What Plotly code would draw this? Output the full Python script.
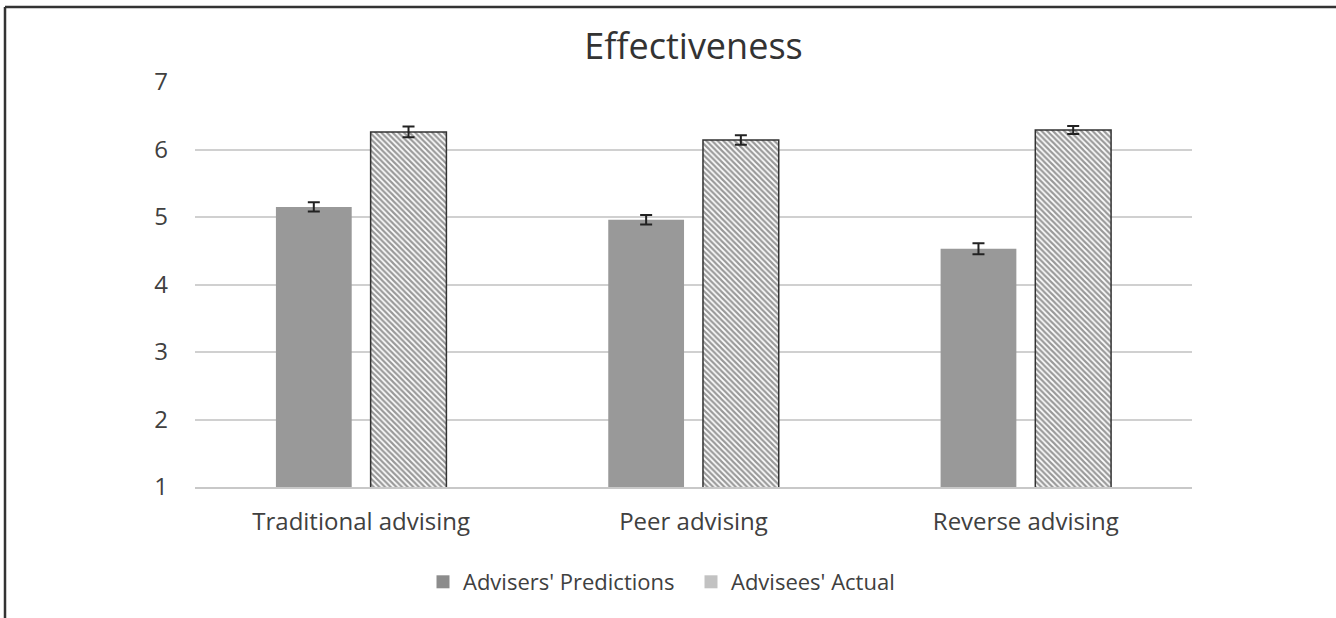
import plotly.graph_objects as go

categories = ["Traditional advising", "Peer advising", "Reverse advising"]
predictions = [5.15, 4.96, 4.53]
predictions_err = [0.07, 0.07, 0.08]
actual = [6.26, 6.14, 6.29]
actual_err = [0.08, 0.07, 0.06]
y_ticks = [1, 2, 3, 4, 5, 6, 7]
series_names = ["Advisers' Predictions", "Advisees' Actual"]

W, H = 1336, 618
L, R, T, B = 195, 1192, 82, 487

font = "Open Sans"
txt = "#404040"

fig = go.Figure()
fig.add_trace(go.Bar(
    x=categories, y=predictions, name=series_names[0],
    marker=dict(color="#999999", line=dict(width=0)),
    error_y=dict(type="data", array=predictions_err, color="#222222", thickness=2, width=6),
    showlegend=False,
))
fig.add_trace(go.Bar(
    x=categories, y=actual, name=series_names[1],
    marker=dict(color="white", line=dict(color="#333333", width=1.5),
                pattern=dict(shape="\\", fgcolor="#333333", bgcolor="white", size=4, solidity=0.55)),
    error_y=dict(type="data", array=actual_err, color="#222222", thickness=2, width=6),
    showlegend=False,
))
# legend entries (solid swatches as in the reference)
fig.add_trace(go.Scatter(x=[categories[0]], y=[None], name=series_names[0], mode="markers",
                         marker=dict(symbol="square", size=13, color="#8c8c8c")))
fig.add_trace(go.Scatter(x=[categories[0]], y=[None], name=series_names[1], mode="markers",
                         marker=dict(symbol="square", size=13, color="#c2c2c2")))

pw, ph = R - L, B - T
def px(xp):
    return (xp - L) / pw
def py(yp):
    return (B - yp) / ph

fig.update_layout(
    width=W, height=H,
    margin=dict(l=L, r=W - R, t=T, b=H - B),
    paper_bgcolor="white", plot_bgcolor="white",
    barmode="group", bargap=0.43, bargroupgap=0.2,
    title=dict(text="Effectiveness", xref="paper", x=0.5, xanchor="center", y=1 - 46 / H, yanchor="middle",
               font=dict(family=font, size=36, color="#333333")),
    font=dict(family=font, size=22, color=txt),
    legend=dict(orientation="h", x=px(423), xanchor="left", y=py(582), yanchor="middle",
                font=dict(size=22, color=txt), itemwidth=30, traceorder="normal",
                entrywidth=223, entrywidthmode="pixels"),
    xaxis=dict(showgrid=False, showline=True, linecolor="#c8c8c8", linewidth=2,
               ticks="", ticklabelstandoff=12, tickfont=dict(size=24, color=txt)),
    yaxis=dict(range=[1, 7], tickvals=y_ticks, showgrid=True, gridcolor="#d0d0d0", gridwidth=2,
               zeroline=False, showline=False, ticks="", ticklabelstandoff=26,
               tickfont=dict(size=24, color=txt)),
    shapes=[
        dict(type="line", xref="paper", yref="paper", x0=px(5), x1=px(W + 5), y0=py(7), y1=py(7),
             line=dict(color="#333333", width=2.5)),
        dict(type="line", xref="paper", yref="paper", x0=px(5), x1=px(5), y0=py(7), y1=py(H + 5),
             line=dict(color="#333333", width=2.5)),
    ],
)

fig.write_html("out.html", config={"displayModeBar": False},
               post_script="document.body.style.margin='0';document.body.style.overflow='hidden';")
